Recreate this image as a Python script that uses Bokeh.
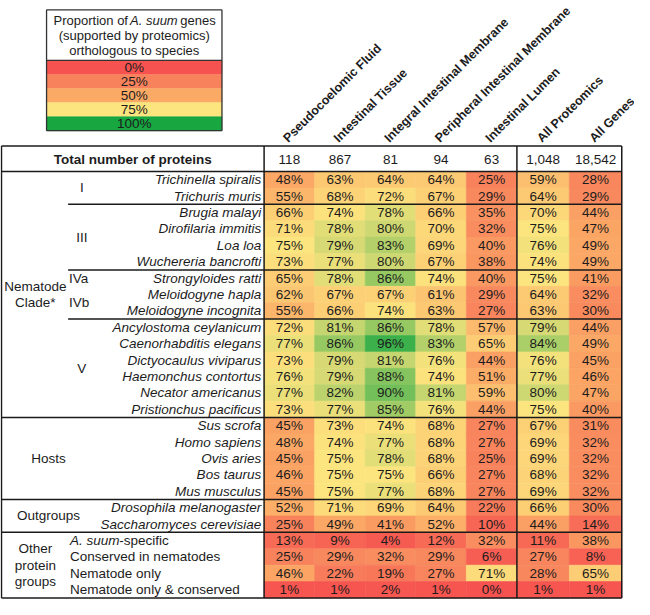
import numpy as np
from bokeh.plotting import figure
from bokeh.models import ColumnDataSource, Range1d, LinearColorMapper
from bokeh.transform import transform
from bokeh.core.properties import value
from bokeh.embed import file_html
from bokeh.resources import INLINE

# ---------------- data ----------------
columns = ["Pseudocoelomic Fluid", "Intestinal Tissue", "Integral Intestinal Membrane",
           "Peripheral Intestinal Membrane", "Intestinal Lumen", "All Proteomics", "All Genes"]
totals = ["118", "867", "81", "94", "63", "1,048", "18,542"]

row_names = ["Trichinella spiralis", "Trichuris muris",
             "Brugia malayi", "Dirofilaria immitis", "Loa loa", "Wuchereria bancrofti",
             "Strongyloides ratti",
             "Meloidogyne hapla", "Meloidogyne incognita",
             "Ancylostoma ceylanicum", "Caenorhabditis elegans", "Dictyocaulus viviparus",
             "Haemonchus contortus", "Necator americanus", "Pristionchus pacificus",
             "Sus scrofa", "Homo sapiens", "Ovis aries", "Bos taurus", "Mus musculus",
             "Drosophila melanogaster", "Saccharomyces cerevisiae",
             "A. suum-specific", "Conserved in nematodes", "Nematode only",
             "Nematode only & conserved"]

pseudocoelomic_fluid = [48, 55, 66, 71, 75, 73, 65, 62, 55, 72, 77, 73, 76, 77, 73,
                        45, 48, 45, 46, 45, 52, 25, 13, 25, 46, 1]
intestinal_tissue = [63, 68, 74, 78, 79, 77, 78, 67, 66, 81, 86, 79, 79, 82, 77,
                     73, 74, 75, 75, 75, 71, 49, 9, 29, 22, 1]
integral_membrane = [64, 72, 78, 80, 83, 80, 86, 67, 74, 86, 96, 81, 88, 90, 85,
                     74, 77, 78, 75, 77, 69, 41, 4, 32, 19, 2]
peripheral_membrane = [64, 67, 66, 70, 69, 67, 74, 61, 63, 78, 83, 76, 74, 81, 76,
                       68, 68, 68, 66, 68, 64, 52, 12, 29, 27, 1]
intestinal_lumen = [25, 29, 35, 32, 40, 38, 40, 29, 27, 57, 65, 44, 51, 59, 44,
                    27, 27, 25, 27, 27, 22, 10, 32, 6, 71, 0]
all_proteomics = [59, 64, 70, 75, 76, 74, 75, 64, 63, 79, 84, 76, 77, 80, 75,
                  67, 69, 69, 68, 69, 66, 44, 11, 27, 28, 1]
all_genes = [28, 29, 44, 47, 49, 49, 41, 32, 30, 44, 49, 45, 46, 47, 40,
             31, 32, 32, 32, 32, 30, 14, 38, 8, 65, 1]

clade_labels = ["I", "III", "IVa", "IVb", "V"]
clade_sizes = [2, 4, 1, 2, 6]
group_labels = [["Nematode", "Clade*"], ["Hosts"], ["Outgroups"], ["Other", "protein", "groups"]]
group_sizes = [15, 5, 2, 4]

legend_values = [0, 25, 50, 75, 100]
legend_labels = ["0%", "25%", "50%", "75%", "100%"]
legend_title = ["Proportion of A. suum genes", "(supported by proteomics)", "orthologous to species"]

# ---------------- style / layout ----------------
stop_colors = ["#F65350", "#F8825C", "#FBAA66", "#FCE47E", "#17A640"]
FONT = value("Liberation Sans")
TXT = "#1c1c1c"
EM = 13.5
FS = f"{EM}px"
HFS = "12.5px"

def h2rgb(h):
    h = h.lstrip("#")
    return [int(h[i:i + 2], 16) for i in (0, 2, 4)]

palette = []
for v in range(101):
    k = min(v // 25, 3)
    t = (v - 25 * k) / 25.0
    a, b = h2rgb(stop_colors[k]), h2rgb(stop_colors[k + 1])
    c = [round(a[i] + (b[i] - a[i]) * t) for i in range(3)]
    palette.append("#%02x%02x%02x" % tuple(c))
mapper = LinearColorMapper(palette=palette, low=-0.5, high=100.5)

LEFT, RIGHT = 2.0, 635.0
LABEL_END = 270.0
SEP = 528.0
TOP, HEAD_BOT = 152.0, 178.0
RH = 16.69
col_edges = list(np.linspace(LABEL_END, SEP, 6)) + [SEP + (RIGHT - SEP) / 2, RIGHT]
col_w = [col_edges[j + 1] - col_edges[j] for j in range(7)]
col_c = [(col_edges[j + 1] + col_edges[j]) / 2 for j in range(7)]
n_rows = len(row_names)
BOTTOM = HEAD_BOT + n_rows * RH
row_c = [HEAD_BOT + (i + 0.5) * RH for i in range(n_rows)]

p = figure(width=634, height=599, x_range=Range1d(1, 648), y_range=Range1d(613.5, 4),
           output_backend="svg", toolbar_location=None, min_border=0)
p.axis.visible = False
p.grid.visible = False
p.outline_line_color = None
p.background_fill_color = "white"

# ---------------- cells ----------------
series = [pseudocoelomic_fluid, intestinal_tissue, integral_membrane, peripheral_membrane,
          intestinal_lumen, all_proteomics, all_genes]
cx, cy, cw, cv, ct = [], [], [], [], []
for j, s in enumerate(series):
    for i, v in enumerate(s):
        cx.append(col_c[j]); cy.append(row_c[i]); cw.append(col_w[j])
        cv.append(v); ct.append(f"{v}%")
cells = ColumnDataSource(dict(x=cx, y=cy, w=cw, v=cv, t=ct))
p.rect(x="x", y="y", width="w", height=RH, source=cells,
       fill_color=transform("v", mapper), line_color=transform("v", mapper), line_width=0.6)
p.text(x="x", y="y", text="t", source=cells, text_align="center", text_baseline="middle",
       text_font=FONT, text_font_size=FS, text_color=TXT)

# totals row
p.text(x=col_c, y=[(TOP + HEAD_BOT) / 2 + 0.5] * 7, text=totals, text_align="center",
       text_baseline="middle", text_font=FONT, text_font_size=FS, text_color=TXT)
p.text(x=[(LEFT + LABEL_END) / 2], y=[(TOP + HEAD_BOT) / 2 + 0.5], text=["Total number of proteins"],
       text_align="center", text_baseline="middle", text_font=FONT, text_font_size=FS,
       text_font_style="bold", text_color=TXT)

# column headers (rotated)
p.text(x=[c - 4 for c in col_c], y=[146] * 7, text=columns, angle=np.pi / 4,
       text_align="left", text_baseline="alphabetic", text_font=FONT, text_font_size=HFS,
       text_font_style="bold", text_color=TXT)

# row labels
n_species = sum(group_sizes[:3])
p.text(x=[267] * n_species, y=row_c[:n_species], text=row_names[:n_species],
       text_align="right", text_baseline="middle", text_font=FONT, text_font_size=FS,
       text_font_style="italic", text_color=TXT)
for i in range(n_species, n_rows):
    name = row_names[i]
    if name.startswith("A. suum"):
        p.text(x=[72], y=[row_c[i]], text=["A. suum"], text_align="left", text_baseline="middle",
               text_font=FONT, text_font_size=FS, text_font_style="italic", text_color=TXT)
        p.text(x=[72 + 3.72 * EM], y=[row_c[i]], text=[name[len("A. suum"):]], text_align="left",
               text_baseline="middle", text_font=FONT, text_font_size=FS, text_color=TXT)
    else:
        p.text(x=[72], y=[row_c[i]], text=[name], text_align="left", text_baseline="middle",
               text_font=FONT, text_font_size=FS, text_color=TXT)

# clade labels
start = 0
for lab, n in zip(clade_labels, clade_sizes):
    yc = HEAD_BOT + (start + n / 2) * RH
    if lab.startswith("IV"):
        p.text(x=[71], y=[yc], text=[lab], text_align="left", text_baseline="middle",
               text_font=FONT, text_font_size=FS, text_color=TXT)
    else:
        p.text(x=[84], y=[yc], text=[lab], text_align="center", text_baseline="middle",
               text_font=FONT, text_font_size=FS, text_color=TXT)
    start += n

# group labels
start = 0
for lines, n in zip(group_labels, group_sizes):
    yc = HEAD_BOT + (start + n / 2) * RH
    k = len(lines)
    xg = 36.5 if k > 1 else 50
    step = 16.5
    ys = [yc + (m - (k - 1) / 2) * step for m in range(k)]
    p.text(x=[xg] * k, y=ys, text=lines, text_align="center", text_baseline="middle",
           text_font=FONT, text_font_size=FS, text_color=TXT)
    start += n

# ---------------- lines ----------------
x0, y0, x1, y1 = [], [], [], []
def seg(a, b, c, d):
    x0.append(a); y0.append(b); x1.append(c); y1.append(d)
seg(LEFT, TOP, RIGHT, TOP)
seg(LEFT, BOTTOM, RIGHT, BOTTOM)
seg(LEFT, TOP, LEFT, BOTTOM)
seg(RIGHT, TOP, RIGHT, BOTTOM)
seg(LABEL_END, TOP, LABEL_END, BOTTOM)
seg(SEP, TOP, SEP, BOTTOM)
seg(LEFT, HEAD_BOT, RIGHT, HEAD_BOT)
cum = 0
for g in group_sizes[:-1]:
    cum += g
    seg(LEFT, HEAD_BOT + cum * RH, RIGHT, HEAD_BOT + cum * RH)
cum = 0
for lab, n in zip(clade_labels[:-1], clade_sizes[:-1]):
    cum += n
    if lab != "IVa":
        seg(70, HEAD_BOT + cum * RH, RIGHT, HEAD_BOT + cum * RH)
p.segment(x0=x0, y0=y0, x1=x1, y1=y1, line_color="#1a1a1a", line_width=1.5)

# ---------------- legend ----------------
LX0, LX1 = 48.0, 227.0
LT, LH_BOT = 13.5, 65.0
LBH = 14.3
lc = (LX0 + LX1) / 2
lsrc = ColumnDataSource(dict(x=[lc] * 5, y=[LH_BOT + (k + 0.5) * LBH for k in range(5)],
                             v=legend_values, t=legend_labels))
p.rect(x="x", y="y", width=LX1 - LX0, height=LBH, source=lsrc,
       fill_color=transform("v", mapper), line_color=transform("v", mapper), line_width=0.5)
p.text(x="x", y="y", text="t", source=lsrc, text_align="center", text_baseline="middle",
       text_font=FONT, text_font_size=FS, text_color=TXT)
LB = LH_BOT + 5 * LBH
p.segment(x0=[LX0, LX0, LX0, LX1, LX0], y0=[LT, LB, LT, LT, LH_BOT],
          x1=[LX1, LX1, LX0, LX1, LX1], y1=[LT, LB, LB, LB, LH_BOT],
          line_color="#333333", line_width=1.3)
# title line 1 with italic species name
LEM = 13.0
w1, w2, w3 = 6.003 * LEM, 3.668 * LEM, 3.002 * LEM
sp = 0.278 * LEM
sx = lc - (w1 + w2 + w3) / 2
ty = [24.5, 39.5, 55]
parts = legend_title[0].split("A. suum")
p.text(x=[sx], y=[ty[0]], text=[parts[0].strip()], text_align="left", text_baseline="middle",
       text_font=FONT, text_font_size=f"{LEM}px", text_color=TXT)
p.text(x=[sx + w1], y=[ty[0]], text=["A. suum"], text_align="left", text_baseline="middle",
       text_font=FONT, text_font_size=f"{LEM}px", text_font_style="italic", text_color=TXT)
p.text(x=[sx + w1 + w2 + sp], y=[ty[0]], text=[parts[1].strip()], text_align="left",
       text_baseline="middle", text_font=FONT, text_font_size=f"{LEM}px", text_color=TXT)
p.text(x=[lc, lc], y=ty[1:], text=legend_title[1:], text_align="center", text_baseline="middle",
       text_font=FONT, text_font_size=f"{LEM}px", text_color=TXT)

open("out.html", "w").write(file_html(p, INLINE))
